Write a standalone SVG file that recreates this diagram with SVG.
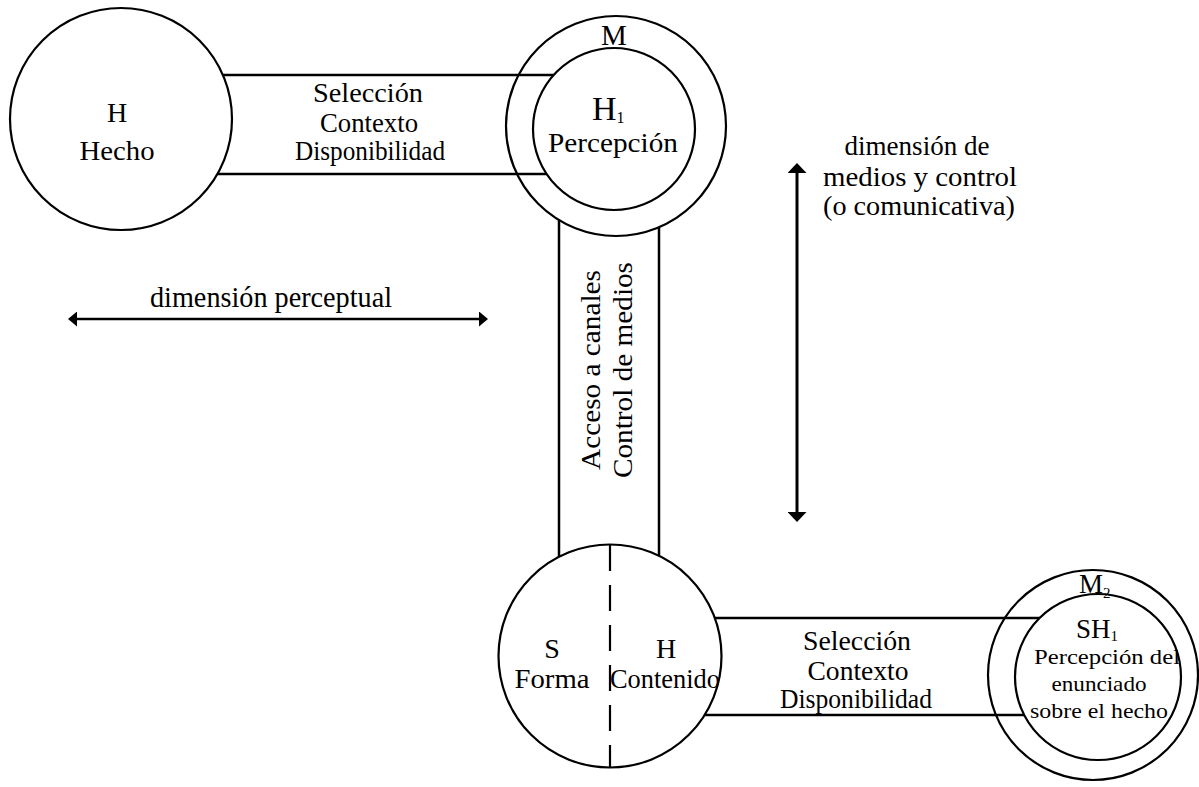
<svg xmlns="http://www.w3.org/2000/svg" width="1199" height="787" viewBox="0 0 1199 787">
<style>
.c{fill:#fff;stroke:#000;stroke-width:2.2}
.ring{fill:none;stroke:#000;stroke-width:2.2}
.ln{stroke:#000;stroke-width:2.5;fill:none}
.t{font-family:"Liberation Serif","Times New Roman",serif;font-size:27px;fill:#000;text-anchor:middle}
.s{text-anchor:start}
.sm{font-size:22px}
.dash{stroke:#000;stroke-width:2.2;stroke-dasharray:26 14}
.arr{stroke:#000;fill:none}
</style>
<defs>
<marker id="ahH" viewBox="0 -7.5 9 15" refX="1" refY="0" markerWidth="9" markerHeight="15" markerUnits="userSpaceOnUse" orient="auto-start-reverse"><path d="M0,-7.5 L9,0 L0,7.5 Z" fill="#000"/></marker>
<marker id="ahV" viewBox="0 -9.5 10 19" refX="2" refY="0" markerWidth="10" markerHeight="19" markerUnits="userSpaceOnUse" orient="auto-start-reverse"><path d="M0,-9.5 L10,0 L0,9.5 Z" fill="#000"/></marker>
</defs>
<rect width="1199" height="787" fill="#fff"/>

<g id="connectors">
  <g class="ln">
    <line x1="223" y1="75" x2="600" y2="75"/>
    <line x1="217" y1="174" x2="600" y2="174"/>
    <line x1="559" y1="220" x2="559" y2="557"/>
    <line x1="659" y1="227" x2="659" y2="556"/>
    <line x1="715" y1="618" x2="1060" y2="618"/>
    <line x1="705" y1="715" x2="1060" y2="715"/>
  </g>
  <text class="t" x="368" y="102" textLength="110" lengthAdjust="spacingAndGlyphs">Selección</text>
  <text class="t" x="369" y="132" textLength="98" lengthAdjust="spacingAndGlyphs">Contexto</text>
  <text class="t" x="370" y="160" textLength="150" lengthAdjust="spacingAndGlyphs">Disponibilidad</text>
  <text class="t" transform="translate(600,370) rotate(-90)" x="0" y="0" textLength="200" lengthAdjust="spacingAndGlyphs" style="font-size:28px">Acceso a canales</text>
  <text class="t" transform="translate(632,370) rotate(-90)" x="0" y="0" textLength="216" lengthAdjust="spacingAndGlyphs" style="font-size:28px">Control de medios</text>
  <text class="t" x="857" y="650" textLength="108" lengthAdjust="spacingAndGlyphs">Selección</text>
  <text class="t" x="858" y="680" textLength="101" lengthAdjust="spacingAndGlyphs">Contexto</text>
  <text class="t" x="856" y="708" textLength="152" lengthAdjust="spacingAndGlyphs">Disponibilidad</text>
</g>

<g id="node-H">
  <circle class="c" cx="121" cy="119" r="111"/>
  <text class="t" x="117" y="122" style="font-size:28px">H</text>
  <text class="t" x="117" y="160" textLength="75" lengthAdjust="spacingAndGlyphs" style="font-size:28px">Hecho</text>
</g>

<g id="node-M">
  <circle class="ring" cx="616" cy="126" r="110"/>
  <circle class="c" cx="614" cy="129" r="81"/>
  <text class="t" x="614" y="45" style="font-size:29px">M</text>
  <text class="t s" x="592" y="120" style="font-size:34px">H<tspan style="font-size:16px" dy="3">1</tspan></text>
  <text class="t" x="613" y="152" textLength="130" lengthAdjust="spacingAndGlyphs">Percepción</text>
</g>

<g id="node-SH">
  <circle class="c" cx="610" cy="656" r="111.5"/>
  <line class="dash" x1="610" y1="545" x2="610" y2="768"/>
  <text class="t" x="552" y="658" style="font-size:28px">S</text>
  <text class="t" x="552" y="688" textLength="75" lengthAdjust="spacingAndGlyphs" style="font-size:28px">Forma</text>
  <text class="t" x="666" y="658" style="font-size:28px">H</text>
  <text class="t" x="665" y="688" textLength="110" lengthAdjust="spacingAndGlyphs">Contenido</text>
</g>

<g id="node-M2">
  <circle class="ring" cx="1093" cy="675" r="105"/>
  <circle class="c" cx="1098" cy="677" r="83"/>
  <text class="t s" x="1079" y="593" style="font-size:27px">M<tspan style="font-size:15px" dy="5">2</tspan></text>
  <text class="t s" x="1076" y="638" style="font-size:27px">SH<tspan style="font-size:15px" dy="3">1</tspan></text>
  <text class="t sm" x="1107" y="664" textLength="146" lengthAdjust="spacingAndGlyphs">Percepción del</text>
  <text class="t sm" x="1099" y="691" textLength="95" lengthAdjust="spacingAndGlyphs">enunciado</text>
  <text class="t sm" x="1099" y="718" textLength="138" lengthAdjust="spacingAndGlyphs">sobre el hecho</text>
</g>

<g id="dimensions">
  <line class="arr" x1="76" y1="319" x2="480" y2="319" stroke-width="2.5" marker-start="url(#ahH)" marker-end="url(#ahH)"/>
  <text class="t" x="271" y="307" textLength="242" lengthAdjust="spacingAndGlyphs" style="font-size:29px">dimensión perceptual</text>
  <line class="arr" x1="797" y1="171" x2="797" y2="514" stroke-width="3" marker-start="url(#ahV)" marker-end="url(#ahV)"/>
  <text class="t" x="917" y="155" textLength="145" lengthAdjust="spacingAndGlyphs" style="font-size:28px">dimensión de</text>
  <text class="t" x="920" y="186" textLength="194" lengthAdjust="spacingAndGlyphs" style="font-size:28px">medios y control</text>
  <text class="t" x="919" y="215" textLength="192" lengthAdjust="spacingAndGlyphs" style="font-size:28px">(o comunicativa)</text>
</g>
</svg>
